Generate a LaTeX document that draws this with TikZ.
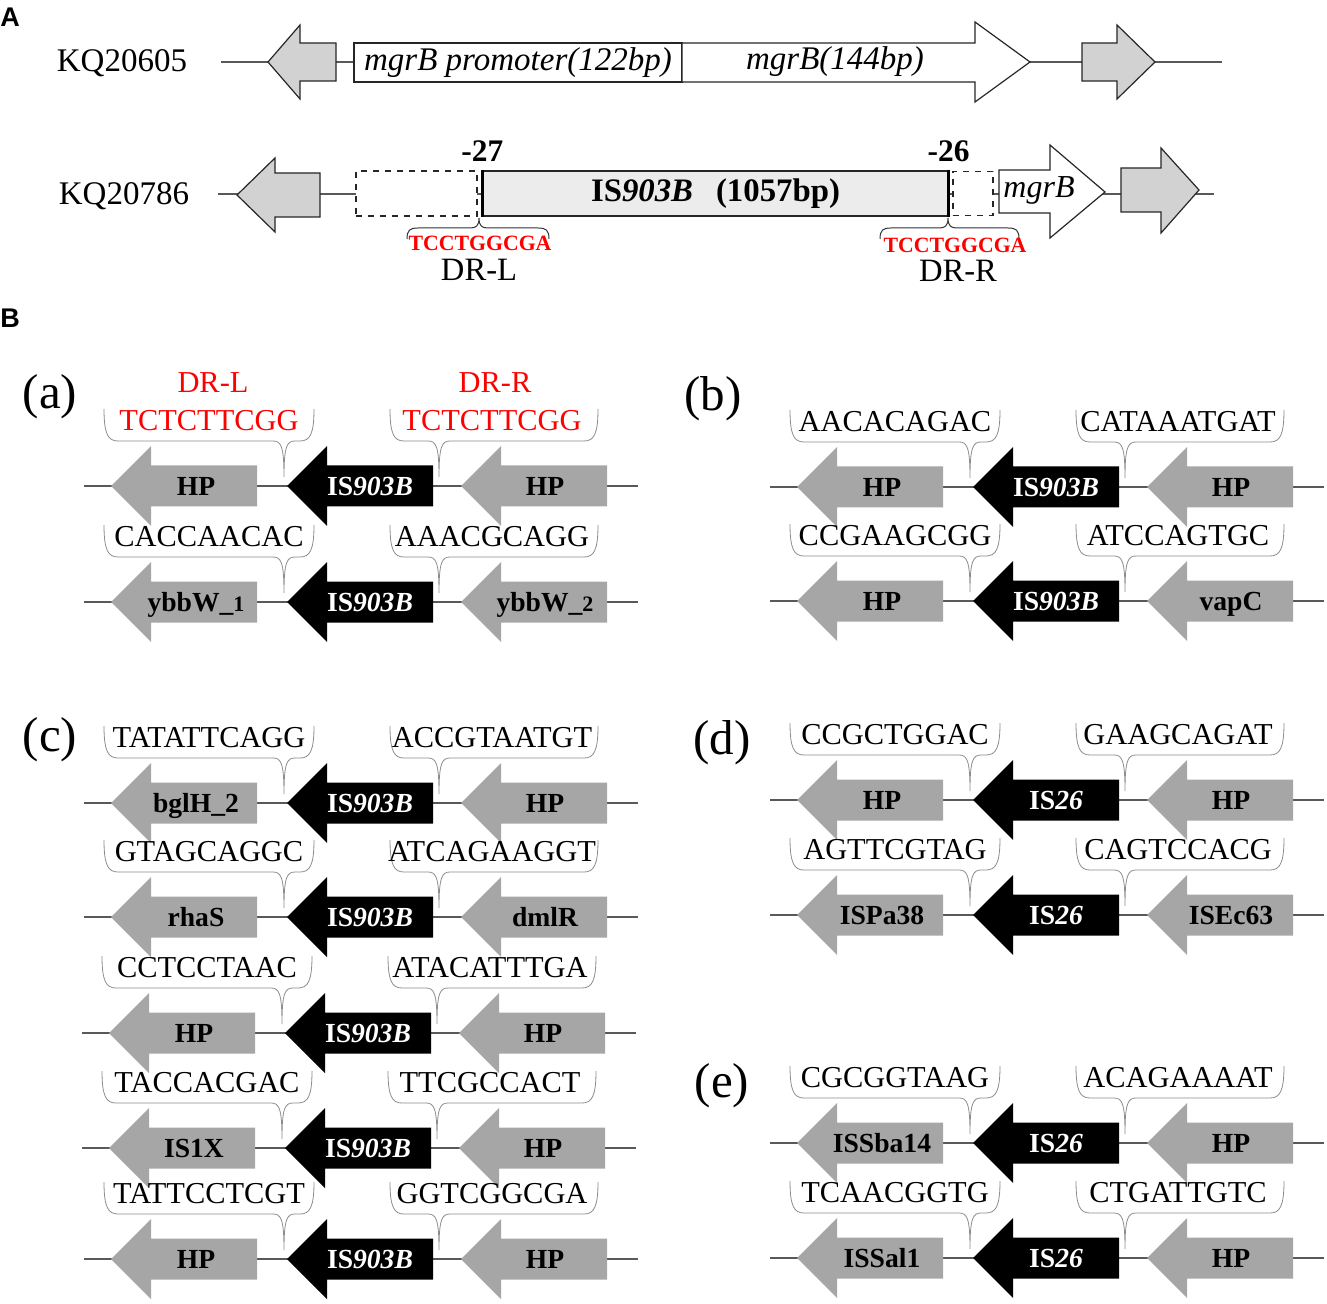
\documentclass[tikz,border=0pt]{standalone}
\usepackage{fontspec}
\setmainfont{Liberation Serif}
\newfontfamily\panelfont{Liberation Sans}
\usetikzlibrary{positioning}

\tikzset{
  dnaline/.style={draw=black!65,line width=0.6pt},
  genebody/.style={fill=gray!70},
  isbody/.style={fill=black},
  oldgene/.style={draw=black!85,fill=gray!35,line width=0.6pt},
  oldbox/.style={draw=black!85,fill=white,line width=0.6pt,rectangle,inner sep=0pt},
  dupbrace/.style={draw=black!45,line width=0.4pt},
  kqlabel/.style={font=\fontsize{16.5}{18}\selectfont,inner sep=0pt},
  oldtext/.style={font=\itshape\fontsize{16.5}{18}\selectfont,inner sep=0pt},
  poslabel/.style={font=\bfseries\fontsize{15.7}{17}\selectfont,inner sep=0pt,text depth=0pt},
  drseq/.style={font=\bfseries\fontsize{10.9}{12}\selectfont,text=red,inner sep=0pt,text depth=0pt},
  drname/.style={font=\fontsize{16.3}{18}\selectfont,inner sep=0pt,text depth=0pt},
  genelabel/.style={font=\bfseries\fontsize{13.8}{15}\selectfont,inner sep=0pt,text depth=0pt},
  islabel/.style={genelabel,text=white},
  seqtext/.style={font=\fontsize{15.2}{17}\selectfont,inner sep=0pt,text depth=0pt},
  panellabel/.style={font=\fontsize{24.5}{26}\selectfont,inner sep=0pt},
  partlabel/.style={font=\panelfont\bfseries\fontsize{13.5}{15}\selectfont,inner sep=0pt},
}

\newcommand{\ISnineB}{IS\textit{903B}}
\newcommand{\IStwosix}{IS\textit{26}}
\newcommand{\smalldigit}[1]{{\fontsize{11}{12}\selectfont #1}}

% left pointing gene arrow: tip x, row y, style
\newcommand{\genearrow}[3]{%
  \fill[#3] (#1,#2) -- ++(40,-40) -- ++(0,19.5) -- ++(106,0) -- ++(0,41)
    -- ++(-106,0) -- ++(0,19.5) -- cycle;}

% brace above a row: left x, right x, tip x, row y
\newcommand{\dupbr}[4]{%
  \draw[dupbrace] (#1,#4-77) .. controls (#1,#4-52) and (#1+4,#4-45) .. (#1+14,#4-45)
    -- (#3-11,#4-45) .. controls (#3-3,#4-45) and (#3,#4-40) .. (#3,#4-9)
    .. controls (#3,#4-40) and (#3+3,#4-45) .. (#3+11,#4-45)
    -- (#2-14,#4-45) .. controls (#2-4,#4-45) and (#2,#4-52) .. (#2,#4-77);}

% brace below part A: left x, right x, tip x
\newcommand{\upbr}[3]{%
  \draw[black!80,line width=0.5pt] (#1,239) .. controls (#1,230) and (#1+3,228) .. (#1+11,228)
    -- (#3-9,228) .. controls (#3-3,228) and (#3,226) .. (#3,218)
    .. controls (#3,226) and (#3+3,228) .. (#3+9,228)
    -- (#2-11,228) .. controls (#2-3,228) and (#2,230) .. (#2,239);}

% one insertion row: x offset, y, name, left gene, IS, right gene, left DR, right DR
\newcommand{\isrow}[8]{%
  \draw[dnaline] (#1+84,#2) -- (#1+638,#2);
  \dupbr{#1+104}{#1+314}{#1+284}{#2}
  \dupbr{#1+390}{#1+598}{#1+439}{#2}
  \genearrow{#1+111}{#2}{genebody}
  \genearrow{#1+287}{#2}{isbody}
  \genearrow{#1+461}{#2}{genebody}
  \node[genelabel] (#3-l) at (#1+196,#2) {#4};
  \node[islabel] (#3-is) at (#1+370,#2) {#5};
  \node[genelabel] (#3-r) at (#1+545,#2) {#6};
  \node[seqtext] (#3-dl) at (#1+209,#2-66) {#7};
  \node[seqtext] (#3-dr) at (#1+492,#2-66) {#8};
}

\begin{document}
\begin{tikzpicture}[x=0.5pt,y=-0.5pt]
\useasboundingbox (0,0) rectangle (1327,1304);

% part A
\node[partlabel] (partA) at (10,17) {A};
\node[kqlabel] (kq1) at (122,63) {KQ20605};
\node[kqlabel] (kq2) at (124,196) {KQ20786};

\draw[dnaline] (221,62) -- (1222,62);
\draw[oldgene] (268,62) -- (300,25) -- (300,43) -- (336,43) -- (336,81) -- (300,81) -- (300,99) -- cycle;
\node[oldbox,minimum width=164pt,minimum height=19.5pt,font=\itshape\fontsize{16.5}{18}\selectfont] (prom) at (518,62.5) {mgrB promoter(122bp)};
\draw[oldgene,fill=white] (682,43) -- (975,43) -- (975,22) -- (1030,62) -- (975,102) -- (975,82) -- (682,82) -- cycle;
\node[oldtext] (mgrb1) at (835,62) {mgrB(144bp)};
\draw[oldgene] (1082,43) -- (1117,43) -- (1117,25) -- (1155,62) -- (1117,99) -- (1117,81) -- (1082,81) -- cycle;

\draw[dnaline] (218,194) -- (1214,194);
\draw[oldgene] (237,195) -- (275,158) -- (275,173) -- (320,173) -- (320,217) -- (275,217) -- (275,232) -- cycle;
\node[oldbox,dashed,minimum width=60.5pt,minimum height=22.5pt] (dupL) at (416.5,193.5) {};
\node[oldbox,fill=gray!15,minimum width=232.5pt,minimum height=22.5pt,font=\bfseries\fontsize{16.4}{18}\selectfont] (isb) at (715.5,193.5) {\ISnineB\hspace{0.7em}(1057bp)};
\draw[line width=1.6pt] (isb.north west) -- (isb.south west);
\draw[line width=1.6pt] (isb.north east) -- (isb.south east);
\node[oldbox,dashed,minimum width=20pt,minimum height=22pt] (dupR) at (973,193.5) {};
\draw[oldgene,fill=white] (999,170) -- (1050,170) -- (1050,145) -- (1105,192) -- (1050,238) -- (1050,213) -- (999,213) -- cycle;
\node[oldtext,font=\itshape\fontsize{16}{18}\selectfont] (mgrb2) at (1039,190) {mgrB};
\draw[oldgene] (1121,168) -- (1161,168) -- (1161,148) -- (1199,190) -- (1161,233) -- (1161,212) -- (1121,212) -- cycle;

\node[poslabel,above=4pt of isb.north west] (pos27) {-27};
\node[poslabel,above=4pt of isb.north east] (pos26) {-26};

\upbr{407}{549}{479}
\upbr{880}{1019}{948}
\node[drseq] (seqL) at (480,243) {TCCTGGCGA};
\node[drseq] (seqR) at (955,245) {TCCTGGCGA};
\node[drname] (drL) at (479,270) {DR-L};
\node[drname] (drR) at (958,271) {DR-R};

% part B
\node[partlabel] (partB) at (10,318) {B};
\node[panellabel] (pa) at (50,397) {(a)};
\node[panellabel] (pb) at (713,399) {(b)};
\node[panellabel] (pc) at (50,740) {(c)};
\node[panellabel] (pd) at (722,743) {(d)};
\node[panellabel] (pe) at (722,1086) {(e)};

\node[seqtext,text=red] (drLa) at (213,383) {DR-L};
\node[seqtext,text=red] (drRa) at (495,383) {DR-R};

\isrow{0}{486}{a1}{HP}{\ISnineB}{HP}{\textcolor{red}{TCTCTTCGG}}{\textcolor{red}{TCTCTTCGG}}
\isrow{0}{602}{a2}{ybbW\_\smalldigit{1}}{\ISnineB}{ybbW\_\smalldigit{2}}{CACCAACAC}{AAACGCAGG}

\isrow{686}{487}{b1}{HP}{\ISnineB}{HP}{AACACAGAC}{CATAAATGAT}
\isrow{686}{601}{b2}{HP}{\ISnineB}{vapC}{CCGAAGCGG}{ATCCAGTGC}

\isrow{0}{803}{c1}{bglH\_2}{\ISnineB}{HP}{TATATTCAGG}{ACCGTAATGT}
\isrow{0}{917}{c2}{rhaS}{\ISnineB}{dmlR}{GTAGCAGGC}{ATCAGAAGGT}
\isrow{-2}{1033}{c3}{HP}{\ISnineB}{HP}{CCTCCTAAC}{ATACATTTGA}
\isrow{-2}{1148}{c4}{IS1X}{\ISnineB}{HP}{TACCACGAC}{TTCGCCACT}
\isrow{0}{1259}{c5}{HP}{\ISnineB}{HP}{TATTCCTCGT}{GGTCGGCGA}

\isrow{686}{800}{d1}{HP}{\IStwosix}{HP}{CCGCTGGAC}{GAAGCAGAT}
\isrow{686}{915}{d2}{ISPa38}{\IStwosix}{ISEc63}{AGTTCGTAG}{CAGTCCACG}

\isrow{686}{1143}{e1}{ISSba14}{\IStwosix}{HP}{CGCGGTAAG}{ACAGAAAAT}
\isrow{686}{1258}{e2}{ISSal1}{\IStwosix}{HP}{TCAACGGTG}{CTGATTGTC}
\end{tikzpicture}
\end{document}
